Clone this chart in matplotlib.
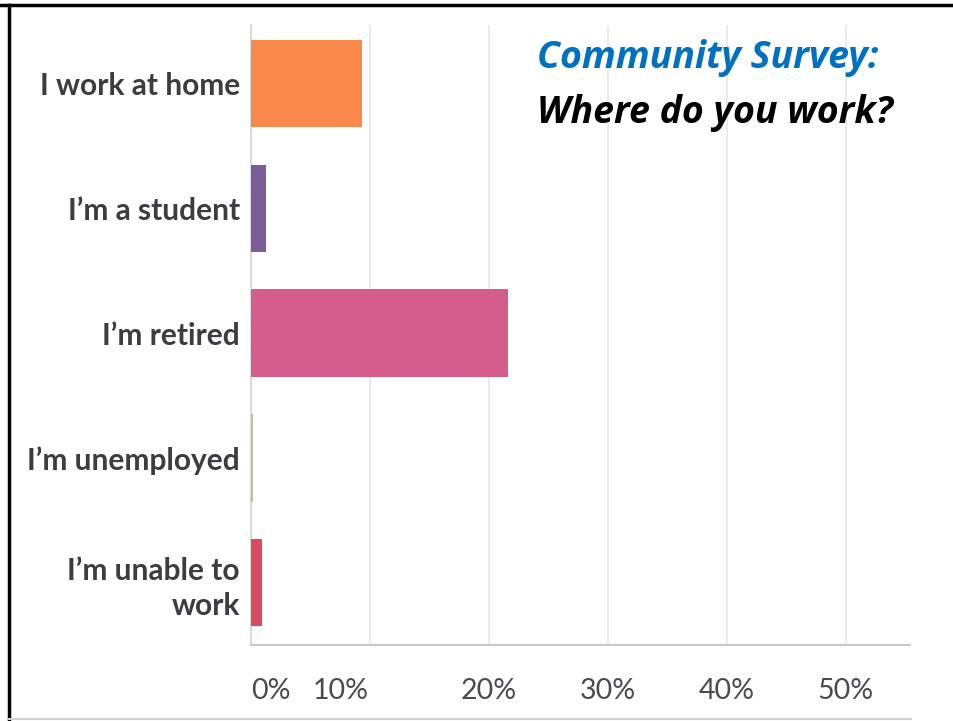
import numpy as np
import matplotlib
matplotlib.use('Agg')
from matplotlib import pyplot as plt
from matplotlib.lines import Line2D
from matplotlib.transforms import ScaledTranslation

# answers, top to bottom
categories = ['I work at home', "I\u2019m a student", "I\u2019m retired",
              "I\u2019m unemployed", "I\u2019m unable to\nwork"]
percent = [9.3, 1.3, 21.6, 0.2, 0.9]
bar_colors = ['#F8894A', '#7B5E97', '#D45D8C', '#CDBB98', '#D84B63']
xticks = [0, 10, 20, 30, 40, 50]
xtick_labels = ['0%', '10%', '20%', '30%', '40%', '50%']

W, H = 954, 721
fig = plt.figure(figsize=(W / 100, H / 100), dpi=100)
ax = fig.add_axes([251 / W, 1 - 645 / H, (910 - 251) / W, (645 - 25) / H])

y = np.arange(len(categories))
ax.barh(y, percent, height=0.7, color=bar_colors, zorder=3)

ax.set_xlim(0, 55.4)
ax.set_ylim(4.5, -0.47)
ax.set_yticks(y)
ax.set_yticklabels(categories, fontsize=21.5, fontweight='bold', color='#3c3c42',
                   family=['Lato', 'DejaVu Sans'], linespacing=1.3)
ax.set_xticks(xticks)
ax.set_xticklabels(xtick_labels, fontsize=20.5, color='#4a4a52',
                   family=['Lato', 'DejaVu Sans'])
ax.tick_params(axis='y', length=0, pad=8)
ax.tick_params(axis='x', length=0, pad=24)

# first two percent labels sit left of their gridlines
lbls = ax.get_xticklabels()
lbls[0].set_ha('left')
lbls[1].set_transform(lbls[1].get_transform() + ScaledTranslation(-0.29, 0, fig.dpi_scale_trans))

ax.grid(axis='x', color='#e6e6e6', linewidth=1.2, zorder=0)
for side in ('top', 'right'):
    ax.spines[side].set_visible(False)
ax.spines['left'].set_color('#d4d4d4')
ax.spines['bottom'].set_color('#c8c8c8')
ax.spines['left'].set_linewidth(1.2)
ax.spines['bottom'].set_linewidth(1.5)

# heading on top of the plot
fig.text(537 / W, 1 - 58 / H, 'Community Survey:', color='#0070C0', fontsize=27,
         fontweight='bold', style='italic', family='Open Sans', va='center', ha='left')
fig.text(537 / W, 1 - 113 / H, 'Where do you work?', color='black', fontsize=27,
         fontweight='bold', style='italic', family='Open Sans', va='center', ha='left')

# frame lines around the slide
fig.add_artist(Line2D([0, 1], [1 - 5 / H, 1 - 5 / H], color='black', linewidth=2.5))
fig.add_artist(Line2D([9 / W, 9 / W], [0, 1 - 5 / H], color='black', linewidth=2.5))
fig.add_artist(Line2D([9 / W, 911 / W], [1 - 719 / H, 1 - 719 / H], color='#d0d0d0', linewidth=1.5))

plt.savefig('out.png', dpi=100)
